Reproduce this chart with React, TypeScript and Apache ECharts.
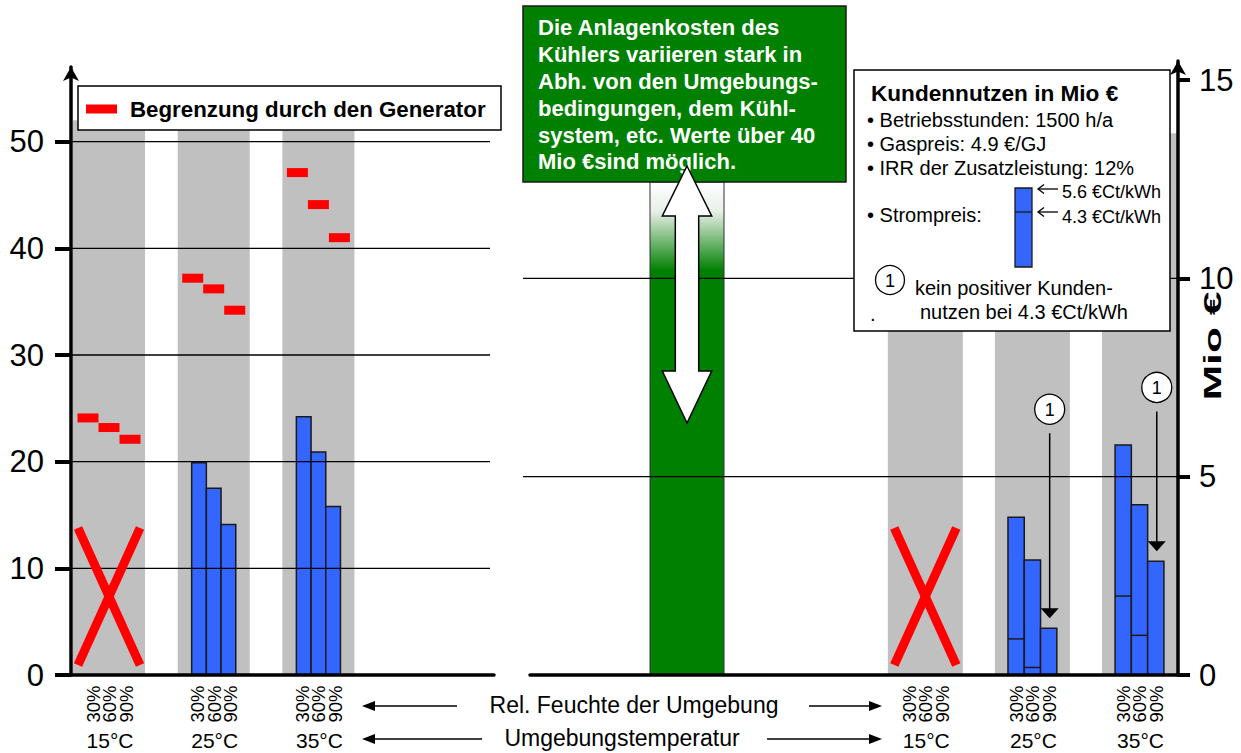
import React, { useEffect, useRef } from "react";
import * as echarts from "echarts";

// ---------- data ----------
const temps = ["15°C", "25°C", "35°C"];
const humidity = ["30%", "60%", "90%"];
const leftTicks = [0, 10, 20, 30, 40, 50];
const rightTicks = [0, 5, 10, 15];

// left panel: bars per humidity (30/60/90 %), 15°C not feasible
const leftBar30 = [null, 19.9, 24.2];
const leftBar60 = [null, 17.5, 20.9];
const leftBar90 = [null, 14.1, 15.8];

// left panel: limitation by the generator
const genLimit30 = [24.1, 37.2, 47.1];
const genLimit60 = [23.2, 36.2, 44.1];
const genLimit90 = [22.1, 34.2, 41.0];

// right panel: customer benefit in Mio € at 5.6 and 4.3 €Ct/kWh
const benefitHigh30 = [null, 3.98, 5.8];
const benefitHigh60 = [null, 2.9, 4.29];
const benefitHigh90 = [null, 1.18, 2.87];
const benefitLow30 = [null, 0.91, 1.99];
const benefitLow60 = [null, 0.19, 1.0];
const benefitLow90 = [null, null, null];

const notFeasible = [true, false, false];

// texts
const legendGenerator = "Begrenzung durch den Generator";
const costNote = [
  "Die Anlagenkosten des",
  "Kühlers variieren stark in",
  "Abh. von den Umgebungs-",
  "bedingungen, dem Kühl-",
  "system, etc. Werte über 40",
  "Mio €sind möglich.",
];
const benefitTitle = "Kundennutzen in Mio €";
const benefitLines = ["• Betriebsstunden: 1500 h/a", "• Gaspreis: 4.9 €/GJ", "• IRR der Zusatzleistung: 12%"];
const priceLabel = "• Strompreis:";
const priceHigh = "5.6 €Ct/kWh";
const priceLow = "4.3 €Ct/kWh";
const noteText = ["kein positiver Kunden-", "nutzen bei 4.3 €Ct/kWh"];
const humidityTitle = "Rel. Feuchte der Umgebung";
const tempTitle = "Umgebungstemperatur";
const rightAxisTitle = "Mio €";

// ---------- layout / style ----------
const FONT = "'Liberation Sans', Arial, Helvetica, sans-serif";
const BLUE = "#3366FF";
const GRAY = "#C0C0C0";
const RED = "#FF0000";
const GREEN = "#008000";
const LX = { min: -0.363, max: 3.677 };
const RX = { min: -3.691, max: 2.3595 };
const L_YMAX = 57.0;
const R_YMAX = 15.48;
const BAND_L = 0.688;
const BAND_R = 0.7;
const BANDTOP_L = 52.0;
const BANDTOP_R = 13.66;
const BAR_L = 0.1404;
const BAR_R = 0.152;
const DASH_L = 0.2006;
const COST_X = -2.225;
const COST_W = 0.691;
const COST_TOP = 12.43;
const NOTE_LEVEL = [0, 6.7, 7.25];

function buildOption() {
  const leftBarData: number[][] = [];
  [leftBar30, leftBar60, leftBar90].forEach((arr, k) =>
    arr.forEach((v, i) => {
      if (v != null) leftBarData.push([i, k, v]);
    })
  );
  const genData: number[][] = [];
  [genLimit30, genLimit60, genLimit90].forEach((arr, k) => arr.forEach((v, i) => genData.push([i, k, v])));
  const rightHigh = [benefitHigh30, benefitHigh60, benefitHigh90];
  const rightLow = [benefitLow30, benefitLow60, benefitLow90];
  const rightBarData: number[][] = [];
  rightHigh.forEach((arr, k) =>
    arr.forEach((v, i) => {
      if (v != null) rightBarData.push([i, k, v, rightLow[k][i] ?? -1]);
    })
  );
  const noteData: number[][] = [];
  benefitHigh90.forEach((v, i) => {
    if (v != null && benefitLow90[i] == null) noteData.push([i, v]);
  });
  const xData = notFeasible.map((f, i) => (f ? [i, 0] : null)).filter((d) => d) as number[][];
  const groupData = temps.map((_, i) => [i, 0]);

  const bandRender = (w: number, top: number) => (params: any, api: any) => {
    const i = api.value(0);
    const a = api.coord([i - w / 2, top]);
    const b = api.coord([i + w / 2, 0]);
    return { type: "rect", shape: { x: a[0], y: a[1], width: b[0] - a[0], height: b[1] - a[1] }, style: { fill: GRAY } };
  };
  const gridRender = (extL: number, trimR: number) => (params: any, api: any) => {
    const cs = params.coordSys;
    const y = api.coord([0, api.value(0)])[1];
    return {
      type: "line",
      shape: { x1: cs.x - extL, y1: y, x2: cs.x + cs.width - trimR, y2: y },
      style: { stroke: "#000", lineWidth: 1.3 },
    };
  };
  const xRender = (params: any, api: any) => {
    const p = api.coord([api.value(0), 0]);
    const cx = p[0];
    const b = p[1];
    const st = { stroke: RED, lineWidth: 9 };
    return {
      type: "group",
      children: [
        { type: "line", shape: { x1: cx - 31, y1: b - 147, x2: cx + 31, y2: b - 10 }, style: st },
        { type: "line", shape: { x1: cx + 31, y1: b - 147, x2: cx - 31, y2: b - 10 }, style: st },
      ],
    };
  };
  const labelRender = (params: any, api: any) => {
    const i = api.value(0);
    const p = api.coord([i, 0]);
    const children: any[] = [
      {
        type: "text",
        x: p[0] + 1,
        y: p[1] + 65,
        style: { text: temps[i], fontSize: 21, fontFamily: FONT, fill: "#000", align: "center", verticalAlign: "middle" },
      },
    ];
    humidity.forEach((h, k) =>
      children.push({
        type: "text",
        x: p[0] + (k - 1) * 16.5 + 0.5,
        y: p[1] + 29,
        rotation: Math.PI / 2,
        style: { text: h, fontSize: 18.5, fontFamily: FONT, fill: "#000", align: "center", verticalAlign: "middle" },
      })
    );
    return { type: "group", children };
  };

  const txt = (text: string, x: number, y: number, size: number, o: any = {}) => ({
    type: "text",
    x,
    y,
    z: o.z ?? 101,
    rotation: o.rotation ?? 0,
    scaleX: o.scaleX ?? 1,
    style: {
      text,
      fontSize: size,
      fontFamily: FONT,
      fontWeight: o.bold ? "bold" : "normal",
      fill: o.fill ?? "#000",
      align: o.align ?? "left",
      verticalAlign: o.va ?? "middle",
      textAlign: o.align ?? "left",
      textVerticalAlign: o.va ?? "middle",
      lineHeight: o.lineHeight,
    },
  });
  const hArrow = (from: number, tip: number, y: number) => {
    const dir = tip > from ? 1 : -1;
    return [
      { type: "line", z: 100, shape: { x1: from, y1: y, x2: tip - dir * 10, y2: y }, style: { stroke: "#000", lineWidth: 1.6 } },
      {
        type: "polygon",
        z: 100,
        shape: { points: [[tip, y], [tip - dir * 13, y - 5], [tip - dir * 13, y + 5]] },
        style: { fill: "#000" },
      },
    ];
  };
  const smallArrow = (x: number, y: number) => [
    { type: "line", z: 101, shape: { x1: x, y1: y, x2: x + 20, y2: y }, style: { stroke: "#000", lineWidth: 1.3 } },
    { type: "polyline", z: 101, shape: { points: [[x + 6, y - 4.5], [x, y], [x + 6, y + 4.5]] }, style: { stroke: "#000", lineWidth: 1.3, fill: null } },
  ];

  const axisLabelBase = { fontSize: 31, color: "#000", fontFamily: FONT };

  return {
    animation: false,
    backgroundColor: "#fff",
    grid: [
      { left: 71, right: 747, top: 67, bottom: 78 },
      { left: 530, right: 63, top: 61, bottom: 78 },
    ],
    xAxis: [
      {
        gridIndex: 0, type: "value", min: LX.min, max: LX.max, z: 5,
        axisLine: { onZero: false, lineStyle: { color: "#000", width: 3.5 } },
        axisTick: { show: false }, axisLabel: { show: false }, splitLine: { show: false },
      },
      {
        gridIndex: 1, type: "value", min: RX.min, max: RX.max, z: 5,
        axisLine: { onZero: false, lineStyle: { color: "#000", width: 3.5 } },
        axisTick: { show: false }, axisLabel: { show: false }, splitLine: { show: false },
      },
    ],
    yAxis: [
      {
        gridIndex: 0, type: "value", min: 0, max: L_YMAX, z: 5,
        axisLine: { show: true, onZero: false, lineStyle: { color: "#000", width: 3.5 }, symbol: ["none", "arrow"], symbolSize: [12, 14] },
        axisTick: { show: true, customValues: leftTicks, length: 16, lineStyle: { color: "#000", width: 4 } },
        axisLabel: { ...axisLabelBase, customValues: leftTicks, margin: 27 },
        splitLine: { show: false },
      },
      {
        gridIndex: 1, type: "value", position: "right", min: 0, max: R_YMAX, z: 5,
        axisLine: { show: true, onZero: false, lineStyle: { color: "#000", width: 3.5 }, symbol: ["none", "arrow"], symbolSize: [12, 14] },
        axisTick: { show: true, customValues: rightTicks, length: 12, lineStyle: { color: "#000", width: 4 } },
        axisLabel: { ...axisLabelBase, customValues: rightTicks, margin: 21 },
        splitLine: { show: false },
      },
    ],
    series: [
      // ----- left panel -----
      { type: "custom", name: "bandsL", xAxisIndex: 0, yAxisIndex: 0, z: 1, data: groupData, renderItem: bandRender(BAND_L, BANDTOP_L) },
      {
        type: "custom", name: "barsL", xAxisIndex: 0, yAxisIndex: 0, z: 2, data: leftBarData,
        renderItem: (params: any, api: any) => {
          const i = api.value(0), k = api.value(1), v = api.value(2);
          const cx = i + (k - 1) * BAR_L;
          const a = api.coord([cx - BAR_L / 2, v]);
          const b = api.coord([cx + BAR_L / 2, 0]);
          return {
            type: "rect",
            shape: { x: a[0], y: a[1], width: b[0] - a[0], height: b[1] - a[1] },
            style: { fill: BLUE, stroke: "#1a1a1a", lineWidth: 1.5 },
          };
        },
      },
      { type: "custom", name: "gridL", xAxisIndex: 0, yAxisIndex: 0, z: 3, data: leftTicks.filter((v) => v > 0).map((v) => [v]), renderItem: gridRender(0, 4) },
      {
        type: "custom", name: "generator", xAxisIndex: 0, yAxisIndex: 0, z: 4, data: genData,
        renderItem: (params: any, api: any) => {
          const i = api.value(0), k = api.value(1), v = api.value(2);
          const cx = i + (k - 1) * DASH_L;
          const a = api.coord([cx - DASH_L / 2, v]);
          const b = api.coord([cx + DASH_L / 2, v]);
          return { type: "rect", shape: { x: a[0], y: a[1] - 4.5, width: b[0] - a[0], height: 9 }, style: { fill: RED } };
        },
      },
      { type: "custom", name: "xL", xAxisIndex: 0, yAxisIndex: 0, z: 4, data: xData, renderItem: xRender },
      { type: "custom", name: "labelsL", xAxisIndex: 0, yAxisIndex: 0, z: 4, data: groupData, renderItem: labelRender },

      // ----- right panel -----
      { type: "custom", name: "bandsR", xAxisIndex: 1, yAxisIndex: 1, z: 1, data: groupData, renderItem: bandRender(BAND_R, BANDTOP_R) },
      {
        type: "custom", name: "costBar", xAxisIndex: 1, yAxisIndex: 1, z: 2, data: [[COST_X, COST_TOP]],
        renderItem: (params: any, api: any) => {
          const a = api.coord([COST_X - COST_W / 2, COST_TOP]);
          const b = api.coord([COST_X + COST_W / 2, 0]);
          return {
            type: "rect",
            shape: { x: a[0], y: a[1], width: b[0] - a[0], height: b[1] - a[1] },
            style: {
              fill: new echarts.graphic.LinearGradient(0, 0, 0, 1, [
                { offset: 0, color: "#ffffff" },
                { offset: 0.06, color: "#e8efe8" },
                { offset: 0.18, color: GREEN },
                { offset: 1, color: GREEN },
              ]),
              stroke: "#333",
              lineWidth: 1,
            },
          };
        },
      },
      {
        type: "custom", name: "barsR", xAxisIndex: 1, yAxisIndex: 1, z: 2, data: rightBarData,
        renderItem: (params: any, api: any) => {
          const i = api.value(0), k = api.value(1), v = api.value(2), low = api.value(3);
          const cx = i + (k - 1) * BAR_R;
          const a = api.coord([cx - BAR_R / 2, v]);
          const b = api.coord([cx + BAR_R / 2, 0]);
          const children: any[] = [
            {
              type: "rect",
              shape: { x: a[0], y: a[1], width: b[0] - a[0], height: b[1] - a[1] },
              style: { fill: BLUE, stroke: "#1a1a1a", lineWidth: 1.5 },
            },
          ];
          if (low > 0) {
            const y = api.coord([cx, low])[1];
            children.push({ type: "line", shape: { x1: a[0], y1: y, x2: b[0], y2: y }, style: { stroke: "#1a1a1a", lineWidth: 1.5 } });
          }
          return { type: "group", children };
        },
      },
      { type: "custom", name: "gridR", xAxisIndex: 1, yAxisIndex: 1, z: 3, data: rightTicks.filter((v) => v > 0 && v < 15).map((v) => [v]), renderItem: gridRender(7, 0) },
      { type: "custom", name: "xR", xAxisIndex: 1, yAxisIndex: 1, z: 4, data: xData, renderItem: xRender },
      { type: "custom", name: "labelsR", xAxisIndex: 1, yAxisIndex: 1, z: 4, data: groupData, renderItem: labelRender },
      {
        type: "custom", name: "notes", xAxisIndex: 1, yAxisIndex: 1, z: 4, data: noteData,
        renderItem: (params: any, api: any) => {
          const i = api.value(0), v = api.value(1);
          const top = api.coord([i + BAR_R, v]);
          const x = top[0] + 1;
          const tip = top[1] - 10;
          const cy = api.coord([i, NOTE_LEVEL[i]])[1];
          return {
            type: "group",
            children: [
              { type: "circle", shape: { cx: x, cy, r: 15 }, style: { fill: "#fff", stroke: "#000", lineWidth: 1.3 } },
              { type: "text", x, y: cy + 1, style: { text: "1", fontSize: 18, fontFamily: FONT, fill: "#000", align: "center", verticalAlign: "middle" } },
              { type: "line", shape: { x1: x, y1: cy + 24, x2: x, y2: tip - 9 }, style: { stroke: "#000", lineWidth: 1.5 } },
              { type: "polygon", shape: { points: [[x - 9, tip - 10], [x + 9, tip - 10], [x, tip]] }, style: { fill: "#000" } },
            ],
          };
        },
      },
      {
        type: "custom", name: "costArrow", xAxisIndex: 1, yAxisIndex: 1, z: 110, data: [[COST_X, COST_TOP]],
        renderItem: (params: any, api: any) => {
          const t = api.coord([COST_X, COST_TOP]);
          const cx = t[0];
          const y0 = t[1];
          return {
            type: "polygon",
            shape: {
              points: [
                [cx, y0 - 16], [cx + 24.7, y0 + 34], [cx + 11.7, y0 + 34], [cx + 11.7, y0 + 189], [cx + 24.7, y0 + 189],
                [cx, y0 + 241], [cx - 24.7, y0 + 189], [cx - 11.7, y0 + 189], [cx - 11.7, y0 + 34], [cx - 24.7, y0 + 34],
              ],
            },
            style: { fill: "#fff", stroke: "#000", lineWidth: 1.5 },
          };
        },
      },
    ],
    graphic: {
      elements: [
        // left legend
        { type: "rect", z: 100, shape: { x: 78, y: 86, width: 423, height: 44 }, style: { fill: "#fff", stroke: "#000", lineWidth: 1.5 } },
        { type: "rect", z: 101, shape: { x: 86, y: 104.5, width: 31, height: 9 }, style: { fill: RED } },
        txt(legendGenerator, 130, 109, 22.3, { bold: true }),
        // green cost box
        { type: "rect", z: 100, shape: { x: 523, y: 6, width: 323, height: 176 }, style: { fill: GREEN, stroke: "#1a1a1a", lineWidth: 1.5 } },
        txt(costNote.join("\n"), 538, 14.6, 22, { bold: true, fill: "#fff", va: "top", lineHeight: 26.8 }),
        // right legend
        { type: "rect", z: 100, shape: { x: 854, y: 70, width: 316, height: 261 }, style: { fill: "#fff", stroke: "#000", lineWidth: 1.5 } },
        txt(benefitTitle, 871, 93, 22.6, { bold: true }),
        txt(benefitLines[0], 867, 120, 20),
        txt(benefitLines[1], 867, 144, 20),
        txt(benefitLines[2], 867, 168, 20),
        txt(priceLabel, 867, 215, 20),
        { type: "rect", z: 101, shape: { x: 1015, y: 188, width: 17, height: 79 }, style: { fill: BLUE, stroke: "#1a1a1a", lineWidth: 1.3 } },
        { type: "line", z: 102, shape: { x1: 1015, y1: 212, x2: 1032, y2: 212 }, style: { stroke: "#1a1a1a", lineWidth: 1.3 } },
        ...smallArrow(1038, 189),
        ...smallArrow(1038, 212),
        txt(priceHigh, 1062, 192, 18),
        txt(priceLow, 1062, 217, 18),
        { type: "circle", z: 101, shape: { cx: 890, cy: 280, r: 14.5 }, style: { fill: "#fff", stroke: "#000", lineWidth: 1.3 } },
        txt("1", 890, 281, 18, { align: "center" }),
        txt(noteText[0], 915, 288, 20),
        txt(noteText[1], 920, 312, 20),
        txt(".", 870, 314, 20),
        // bottom descriptions
        txt(humidityTitle, 634, 705, 23, { align: "center", z: 100 }),
        ...hArrow(457, 362, 706),
        ...hArrow(809, 882, 706),
        txt(tempTitle, 622, 738, 23, { align: "center", z: 100 }),
        ...hArrow(482, 362, 739),
        ...hArrow(767, 882, 739),
        // right axis title
        txt(rightAxisTitle, 1213, 346, 23, { bold: true, align: "center", rotation: Math.PI / 2, scaleX: 1.85 }),
      ],
    },
  };
}

export default function App() {
  const ref = useRef<HTMLDivElement>(null);
  useEffect(() => {
    const chart = echarts.init(ref.current!, null, { renderer: "svg" });
    chart.setOption(buildOption() as any);
    return () => chart.dispose();
  }, []);
  return (
    <div
      ref={ref}
      style={{ position: "absolute", left: 0, top: 0, width: 1241, height: 753, background: "#fff" }}
    />
  );
}
